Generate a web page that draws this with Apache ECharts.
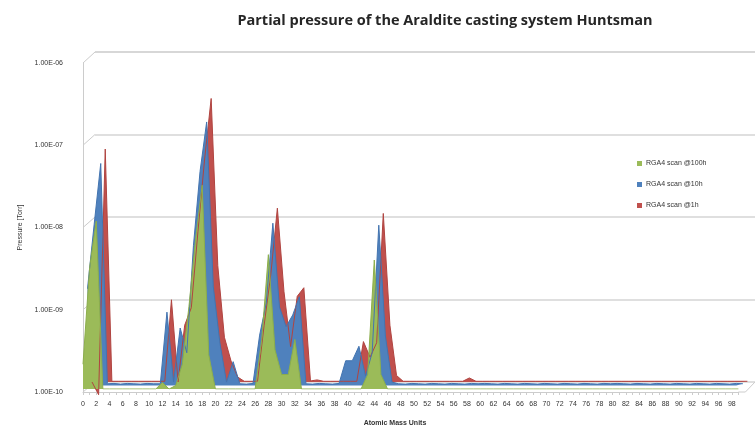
<!DOCTYPE html>
<html>
<head>
<meta charset="utf-8">
<script src="https://cdn.jsdelivr.net/npm/echarts@6/dist/echarts.min.js"></script>
<style>
  html, body { margin: 0; padding: 0; background: #ffffff; }
  #chart { width: 755px; height: 429px; }
</style>
</head>
<body>
<div id="chart"></div>
<script>
// Atomic mass units on the category axis (0 .. 99)
const amu = Array.from({ length: 100 }, (_, i) => i);

// Decade tick labels of the pressure axis
const yTickLabels = ['1.00E-10', '1.00E-09', '1.00E-08', '1.00E-07', '1.00E-06'];
const decades = [1e-10, 1e-9, 1e-8, 1e-7, 1e-6];

const seriesNames = ['RGA4 scan @100h', 'RGA4 scan @10h', 'RGA4 scan @1h'];

// Partial pressures [Torr] per mass, scan after 100 h of pumping
const scan100h = [
  2.0e-10, 3.0e-9, 1.1e-8, 1.0e-10, 1.0e-10, 1.0e-10, 1.0e-10, 1.0e-10, 1.0e-10, 1.0e-10,
  1.0e-10, 1.0e-10, 1.2e-10, 1.0e-10, 1.1e-10, 2.0e-10, 1.0e-9, 6.5e-9, 3.0e-8, 2.6e-10,
  1.0e-10, 1.0e-10, 1.0e-10, 1.0e-10, 1.0e-10, 1.0e-10, 1.0e-10, 4.0e-10, 4.3e-9, 3.0e-10,
  1.5e-10, 1.5e-10, 4.0e-10, 1.0e-10, 1.0e-10, 1.0e-10, 1.0e-10, 1.0e-10, 1.0e-10, 1.0e-10,
  1.0e-10, 1.0e-10, 1.0e-10, 1.5e-10, 3.7e-9, 1.5e-10, 1.0e-10, 1.0e-10, 1.0e-10, 1.0e-10,
  1.0e-10, 1.0e-10, 1.0e-10, 1.0e-10, 1.0e-10, 1.0e-10, 1.0e-10, 1.0e-10, 1.0e-10, 1.0e-10,
  1.0e-10, 1.0e-10, 1.0e-10, 1.0e-10, 1.0e-10, 1.0e-10, 1.0e-10, 1.0e-10, 1.0e-10, 1.0e-10,
  1.0e-10, 1.0e-10, 1.0e-10, 1.0e-10, 1.0e-10, 1.0e-10, 1.0e-10, 1.0e-10, 1.0e-10, 1.0e-10,
  1.0e-10, 1.0e-10, 1.0e-10, 1.0e-10, 1.0e-10, 1.0e-10, 1.0e-10, 1.0e-10, 1.0e-10, 1.0e-10,
  1.0e-10, 1.0e-10, 1.0e-10, 1.0e-10, 1.0e-10, 1.0e-10, 1.0e-10, 1.0e-10, 1.0e-10, 1.0e-10
];

// Scan after 10 h
const scan10h = [
  1.5e-9, 9.0e-9, 5.0e-8, 1.05e-10, 1.06e-10, 1.04e-10, 1.06e-10, 1.05e-10, 1.04e-10, 1.06e-10,
  1.05e-10, 1.05e-10, 7.8e-10, 1.1e-10, 5.0e-10, 2.5e-10, 5.0e-9, 4.0e-8, 1.6e-7, 1.6e-9,
  3.3e-10, 1.1e-10, 1.95e-10, 1.05e-10, 1.04e-10, 1.06e-10, 4.1e-10, 1.0e-9, 9.4e-9, 9.0e-10,
  5.2e-10, 7.2e-10, 1.2e-9, 1.05e-10, 1.04e-10, 1.06e-10, 1.05e-10, 1.04e-10, 1.06e-10, 2.0e-10,
  2.0e-10, 3.0e-10, 1.3e-10, 2.5e-10, 8.9e-9, 4.0e-10, 1.1e-10, 1.05e-10, 1.04e-10, 1.06e-10,
  1.05e-10, 1.04e-10, 1.06e-10, 1.05e-10, 1.04e-10, 1.06e-10, 1.05e-10, 1.04e-10, 1.06e-10, 1.05e-10,
  1.06e-10, 1.05e-10, 1.04e-10, 1.06e-10, 1.05e-10, 1.04e-10, 1.06e-10, 1.05e-10, 1.04e-10, 1.06e-10,
  1.05e-10, 1.04e-10, 1.06e-10, 1.05e-10, 1.04e-10, 1.06e-10, 1.05e-10, 1.04e-10, 1.06e-10, 1.05e-10,
  1.06e-10, 1.05e-10, 1.04e-10, 1.06e-10, 1.05e-10, 1.04e-10, 1.06e-10, 1.05e-10, 1.04e-10, 1.06e-10,
  1.05e-10, 1.04e-10, 1.06e-10, 1.05e-10, 1.04e-10, 1.06e-10, 1.05e-10, 1.04e-10, 1.06e-10, 1.05e-10
];

// Scan after 1 h
const scan1h = [
  1.0e-10, 7.0e-11, 6.8e-8, 1.02e-10, 1.02e-10, 1.02e-10, 1.02e-10, 1.02e-10, 1.02e-10, 1.02e-10,
  1.02e-10, 1.02e-10, 1.0e-9, 1.0e-10, 4.9e-10, 8.0e-10, 6.7e-9, 5.0e-8, 2.8e-7, 2.6e-9,
  3.5e-10, 1.8e-10, 1.15e-10, 1.02e-10, 1.02e-10, 1.02e-10, 4.9e-10, 2.0e-9, 1.3e-8, 1.25e-9,
  2.7e-10, 1.1e-9, 1.4e-9, 1.03e-10, 1.06e-10, 1.02e-10, 1.02e-10, 1.02e-10, 1.02e-10, 1.02e-10,
  1.02e-10, 3.1e-10, 2.0e-10, 3.0e-10, 1.12e-8, 4.9e-10, 1.2e-10, 1.02e-10, 1.02e-10, 1.02e-10,
  1.02e-10, 1.02e-10, 1.02e-10, 1.02e-10, 1.02e-10, 1.02e-10, 1.02e-10, 1.12e-10, 1.02e-10, 1.02e-10,
  1.02e-10, 1.02e-10, 1.02e-10, 1.02e-10, 1.02e-10, 1.02e-10, 1.02e-10, 1.02e-10, 1.02e-10, 1.02e-10,
  1.02e-10, 1.02e-10, 1.02e-10, 1.02e-10, 1.02e-10, 1.02e-10, 1.02e-10, 1.02e-10, 1.02e-10, 1.02e-10,
  1.02e-10, 1.02e-10, 1.02e-10, 1.02e-10, 1.02e-10, 1.02e-10, 1.02e-10, 1.02e-10, 1.02e-10, 1.02e-10,
  1.02e-10, 1.02e-10, 1.02e-10, 1.02e-10, 1.02e-10, 1.02e-10, 1.02e-10, 1.02e-10, 1.02e-10, 1.02e-10
];

const colors = { green: '#9BBB59', blue: '#4F81BD', red: '#C0504D' };
const PMIN = 1e-10, PMAX = 1e-6;
const FONT = 'Liberation Sans, Arial, sans-serif';
const FRAME = '#cccccc';

function tickLabel(v) {
  return yTickLabels[Math.round(Math.log10(v)) + 10] || '';
}

// hidden axes for one depth row of the pseudo-3D layout
function hiddenX(gi) {
  return { gridIndex: gi, type: 'category', data: amu, boundaryGap: false, show: false };
}
function hiddenY(gi) {
  return { gridIndex: gi, type: 'log', logBase: 10, min: PMIN, max: PMAX, show: false };
}

const chart = echarts.init(document.getElementById('chart'), null, { renderer: 'canvas' });

chart.setOption({
  animation: false,
  backgroundColor: '#ffffff',
  title: [
    {
      text: 'Partial pressure of the Araldite casting system Huntsman',
      left: 440, top: 8, textAlign: 'center',
      textStyle: { fontFamily: 'Open Sans, sans-serif', fontWeight: 'bold', fontSize: 14.5, color: '#262626' }
    },
    {
      text: 'Atomic Mass Units',
      left: 390, top: 415, textAlign: 'center',
      textStyle: { fontFamily: FONT, fontWeight: 'bold', fontSize: 7, color: '#333333' }
    }
  ],
  legend: {
    orient: 'vertical',
    left: 632, top: 155,
    itemWidth: 5, itemHeight: 5, itemGap: 14,
    icon: 'rect',
    data: seriesNames,
    textStyle: { fontFamily: FONT, fontSize: 7, color: '#333333', padding: [0, 0, 0, -1] }
  },
  grid: [
    // front plane: axis labels, front axis line and floor edge
    { left: 83, right: 16.6, top: 63, bottom: 37 },
    // back wall with the decade gridlines
    { left: 95, right: 0, top: 52, bottom: 47 },
    // depth rows, back to front: 1 h, 10 h, 100 h
    { left: 92, right: 7.6, top: 53, bottom: 47 },
    { left: 87.5, right: 12.1, top: 56.5, bottom: 43.5 },
    { left: 83, right: 16.6, top: 60, bottom: 40 }
  ],
  xAxis: [
    {
      gridIndex: 0, type: 'category', data: amu, boundaryGap: false,
      axisLine: { lineStyle: { color: FRAME, width: 1 } },
      axisTick: { interval: 0, length: 3, lineStyle: { color: FRAME } },
      axisLabel: { interval: 1, margin: 9, fontFamily: FONT, fontSize: 7, color: '#333333' },
      splitLine: { show: false }
    },
    hiddenX(1), hiddenX(2), hiddenX(3), hiddenX(4)
  ],
  yAxis: [
    {
      gridIndex: 0, type: 'log', logBase: 10, min: PMIN, max: PMAX,
      name: 'Pressure [Torr]', nameLocation: 'middle', nameGap: 57, nameRotate: 90,
      nameTextStyle: { fontFamily: FONT, fontSize: 7, color: '#333333' },
      axisLine: { show: true, lineStyle: { color: FRAME, width: 1 } },
      axisTick: { show: false },
      axisLabel: { margin: 20, fontFamily: FONT, fontSize: 7, color: '#333333', formatter: tickLabel },
      splitLine: { show: false }
    },
    {
      gridIndex: 1, type: 'log', logBase: 10, min: PMIN, max: PMAX,
      axisLine: { show: false }, axisTick: { show: false }, axisLabel: { show: false },
      splitLine: { show: true, lineStyle: { color: '#d4d4d4', width: 1.5 } }
    },
    hiddenY(2), hiddenY(3), hiddenY(4)
  ],
  series: [
    {
      name: seriesNames[2], type: 'line', xAxisIndex: 2, yAxisIndex: 2,
      data: scan1h, symbol: 'none', clip: false,
      lineStyle: { color: '#b04440', width: 1 },
      itemStyle: { color: colors.red },
      areaStyle: { color: colors.red, opacity: 1 }
    },
    {
      name: seriesNames[1], type: 'line', xAxisIndex: 3, yAxisIndex: 3,
      data: scan10h, symbol: 'none',
      lineStyle: { color: '#4374b0', width: 1 },
      itemStyle: { color: colors.blue },
      areaStyle: { color: colors.blue, opacity: 1 }
    },
    {
      name: seriesNames[0], type: 'line', xAxisIndex: 4, yAxisIndex: 4,
      data: scan100h, symbol: 'none',
      lineStyle: { color: '#8cae4c', width: 1 },
      itemStyle: { color: colors.green },
      areaStyle: { color: colors.green, opacity: 1 }
    }
  ]
});

// Depth edges of the box: short diagonals joining the front axis to the back wall,
// and the right-hand edge of the floor, placed from the axes' own pixel mapping.
const front = { xAxisIndex: 0, yAxisIndex: 0 };
const wall = { xAxisIndex: 1, yAxisIndex: 1 };
const edges = [];
decades.forEach(function (v) {
  const a = chart.convertToPixel(front, [0, v]);
  const b = chart.convertToPixel(wall, [0, v]);
  edges.push({
    type: 'line', silent: true, z: 1,
    shape: { x1: a[0], y1: a[1], x2: b[0], y2: b[1] },
    style: { stroke: FRAME, lineWidth: 1 }
  });
});
const fr = chart.convertToPixel(front, [amu.length - 1, PMIN]);
const wr = chart.convertToPixel(wall, [amu.length - 1, PMIN]);
edges.push({
  type: 'polyline', silent: true, z: 1,
  shape: { points: [[fr[0], fr[1]], [fr[0] + 7, fr[1]], [wr[0], wr[1]]] },
  style: { stroke: FRAME, lineWidth: 1, fill: null }
});
chart.setOption({ graphic: edges });
</script>
</body>
</html>
